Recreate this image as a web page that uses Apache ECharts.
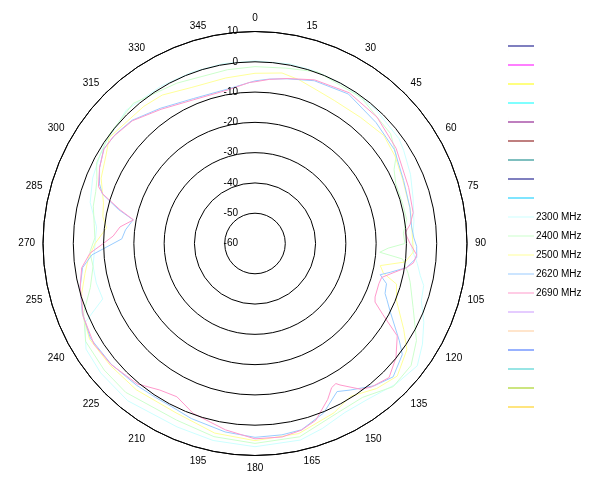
<!DOCTYPE html>
<html><head><meta charset="utf-8">
<script src="https://cdn.jsdelivr.net/npm/echarts@6/dist/echarts.min.js"></script>
<style>html,body{margin:0;padding:0;background:#fff}#c{width:600px;height:500px}</style>
</head><body><div id="c"></div>
<script>
// radius (dB) tick labels and angle tick labels
const radiusTicks = [-60, -50, -40, -30, -20, -10, 0, 10];
const angleTicks = [0,15,30,45,60,75,90,105,120,135,150,165,180,195,210,225,240,255,270,285,300,315,330,345];

// Series: [angle (deg), gain (dB)]
const s2300 = [[0,0.3],[11,0.4],[20,0.3],[30,0],[42,-0.4],[54,-1.2],[58,-2.1],[66,-3.8],[74,-5.7],[82,-7],[92,-8.2],[97,-6],[101,-4.4],[104,-2.6],[109,-1.9],[115,1.5],[121,4.5],[127,7.1],[135,5.7],[144,3.5],[152,3.2],[160,5],[167,6.6],[180,7.1],[192,6.5],[203,5.8],[219,6.8],[230,6.5],[238,5.8],[245,2],[250,-6.5],[256,-6],[262,-6],[268,-7],[276,-7.4],[284,-3.9],[292,-2.2],[300,-1],[303,-0.6],[316,1.2],[329,0.5],[340,0.3],[350,0.3],[360,0.3]];
const s2400 = [[0,-1.6],[10,-1.2],[20,0.3],[36,-0.4],[51,-2.4],[58,-5],[62,-8],[67,-9.5],[75,-9.5],[81,-9.3],[86,-10.9],[90,-10.5],[92,-16],[94,-18.7],[96,-11],[101,-8.5],[104,-7.2],[112,-3.7],[121,2.2],[128,5.4],[136,5.7],[145,2],[154,2.2],[167,5.5],[180,6],[192,5.2],[204,3.8],[221,5.1],[230,5],[240,4.6],[248,1],[255,-3.7],[262,-6],[267,-5.4],[272,-7.1],[277,-6.5],[283,-5.2],[288,-4.7],[292,-3.7],[297,-1.3],[307,0.1],[319,1.3],[334,-1.1],[351,-1.9],[360,-1.6]];
const s2500 = [[0,-3.8],[9,-3],[15,-4],[22,-5.4],[29,-6],[40,-5.7],[50,-4.5],[58,-5.5],[66,-6.8],[78,-7.5],[86,-8],[93,-7.6],[97,-10],[100,-18],[103,-16.5],[106,-11.4],[112,-9.6],[120,-3.3],[125,1.2],[133,4.2],[140,2.5],[148,-0.5],[155,1.7],[167,4.4],[180,5.1],[192,4],[205,1.7],[219,2.2],[230,2.5],[240,3.1],[248,1.5],[254,-0.5],[260,-3],[265,-4.8],[270,-7.2],[276,-10.7],[280,-9],[285,-8.2],[293,-4.8],[301,-2.7],[306,-0.5],[321,-1.7],[328,-2.2],[338,-4.4],[350,-4.5],[360,-3.8]];
const s2620 = [[0,-6.3],[5,-5.5],[11,-4.6],[20,-2.8],[32,-1.8],[45,-3.5],[56,-4.5],[67,-6.7],[77,-7.5],[84,-8],[88,-7.5],[91,-6.6],[95,-6.4],[99,-9.3],[102,-14.3],[104,-17.4],[107,-14.6],[111,-14],[113,-12.7],[117,-9.8],[124,-2.5],[127,0.9],[134,3.4],[140,1.3],[147,-2.3],[151,-4.1],[158,0.4],[166,3.4],[172,3.8],[180,4],[189,3],[200,1.5],[207,0.5],[213,0.5],[220,1],[230,2],[240,2.7],[248,1.5],[256,-0.5],[262,-2.5],[266,-6],[268,-9.9],[272,-16],[276,-17],[281,-19],[284,-13.5],[288,-7],[291,-5],[296,-2.9],[302,-1.1],[308,-1.5],[315,-2.5],[325,-5.5],[337,-8],[350,-8.2],[360,-6.3]];
const s2690 = [[0,-6.6],[5,-5.6],[11,-4.5],[20,-2.5],[32,-1.3],[44,-2],[56,-3.8],[70,-6],[79,-6.8],[83,-8.4],[86,-10.3],[90,-8.8],[94,-6.5],[97,-7.3],[99,-9.3],[102,-13.4],[105,-16.7],[108,-17],[114,-16.6],[116,-15.9],[119,-11.8],[123,-4],[129,-0.1],[135,2.6],[141,1],[144,-0.5],[149,-5.5],[150,-6.6],[152,-6.1],[155,-3.2],[161,1.7],[166,3.5],[172,4.5],[180,4.5],[189,2.3],[200,-0.3],[207,-3.2],[213,-2.3],[220,0.5],[230,2.1],[238,2.7],[247,1.6],[252,0.2],[256,-0.5],[262,-2.2],[266.6,-5.4],[270,-9.9],[273,-13.1],[277,-15.1],[281,-19.1],[284,-14.1],[288,-7.2],[290,-5],[296,-2.9],[302,-1.2],[307,-1.4],[315,-2.7],[325,-5.9],[337,-8.4],[350,-8.5],[358,-6.8],[360,-6.6]];

// legend entries (empty-named ones are placeholders in the original)
const legendNames = ['s1','s2','s3','s4','s5','s6','s7','s8','s9','2300 MHz','2400 MHz','2500 MHz','2620 MHz','2690 MHz','s15','s16','s17','s18','s19','s20'];
const legendColors = ['#000080','#ff00ff','#ffff00','#00ffff','#800080','#800000','#008080','#000080','#00ccff',
  '#ccffff','#ccffcc','#ffff99','#99ccff','#ff99cc',
  '#cc99ff','#ffcc99','#3366ff','#33cccc','#99cc00','#ffcc00'];
const dataByName = {'2300 MHz': s2300, '2400 MHz': s2400, '2500 MHz': s2500, '2620 MHz': s2620, '2690 MHz': s2690};

const FONT = 'Liberation Sans, Arial, sans-serif';
const chart = echarts.init(document.getElementById('c'), null, {renderer: 'canvas'});
const series = legendNames.map((n, i) => ({
  name: n, type: 'line', coordinateSystem: 'polar', symbol: 'none', smooth: false,
  animation: false, z: 3,
  lineStyle: {width: 1, color: legendColors[i]}, itemStyle: {color: legendColors[i]},
  data: (dataByName[n] || []).map(p => [p[1], p[0]])
}));

// thin horizontal line icon (tiny sliver keeps the bounding box 26x10)
const lineIcon = 'path://M0,0L0.01,0L0.01,10L0,10Z M0,4.5L26,4.5L26,5.5L0,5.5Z';

chart.setOption({
  animation: false,
  backgroundColor: '#fff',
  legend: {
    orient: 'vertical', left: 508, top: 41, padding: 0,
    itemWidth: 26, itemHeight: 10, itemGap: 9,
    icon: lineIcon, symbolKeepAspect: false,
    data: legendNames,
    formatter: n => (n.indexOf('MHz') >= 0 ? n : ''),
    textStyle: {fontSize: 10, color: '#000', fontFamily: FONT, padding: [0,0,0,-3], lineHeight: 10},
    selectedMode: false
  },
  polar: {center: [255, 243.5], radius: 212},
  angleAxis: {
    type: 'value', min: 0, max: 360, interval: 15, startAngle: 90, clockwise: true,
    axisLine: {show: true, lineStyle: {color: '#000', width: 1}},
    axisTick: {show: false},
    splitLine: {show: false},
    axisLabel: {margin: 8, fontSize: 10, color: '#000', fontFamily: FONT,
      formatter: v => (angleTicks.indexOf(v) >= 0 ? String(v) : '')}
  },
  radiusAxis: {
    type: 'value', min: radiusTicks[0], max: radiusTicks[radiusTicks.length-1], interval: 10,
    axisLine: {show: false}, axisTick: {show: false},
    splitLine: {show: true, lineStyle: {color: '#000', width: 1}},
    axisLabel: {show: true, margin: 17, fontSize: 10, color: '#000', fontFamily: FONT, showMinLabel: true, showMaxLabel: true},
    z: 5
  },
  series: series
});
</script></body></html>
